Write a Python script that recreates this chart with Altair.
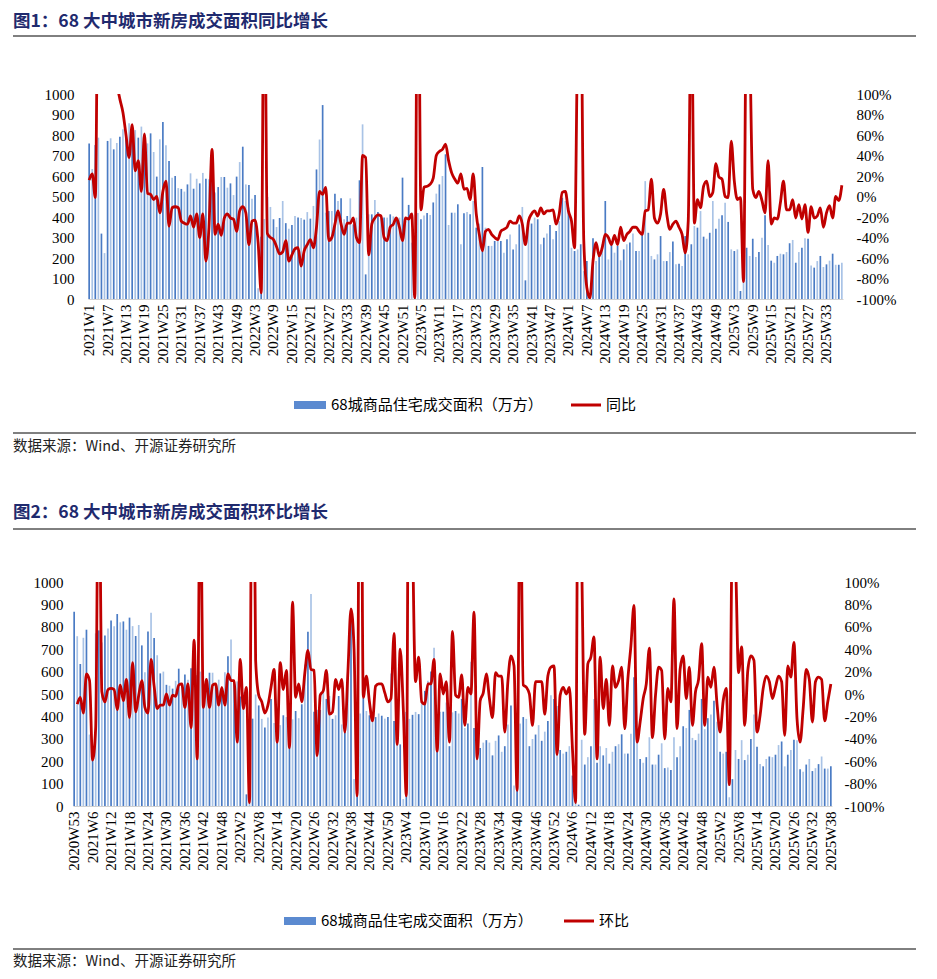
import altair as alt
import pandas as pd

# ---------------- data ----------------
WEEKS = ["2020W53"] + [f"{y}W{w}" for y in range(2021, 2026)
                       for w in range(1, (53 if y < 2025 else 39))]

# 68城商品住宅成交面积（万方）, 2020W53 .. 2025W38
AREA = [867,
    758, 634, 751, 787, 319, 224, 771, 784, 730, 761,
    792, 828, 803, 857, 820, 824, 787, 841, 803, 759,
    808, 717, 597, 779, 863, 750, 673, 592, 600, 541,
    537, 524, 559, 613, 538, 587, 564, 615, 587, 584,
    600, 519, 546, 595, 595, 543, 564, 507, 597, 668,
    743, 559, 556, 489, 507, 52,
    304, 390, 498, 449, 389, 351, 395, 478, 370, 343,
    361, 405, 397, 395, 387, 424, 392, 454, 632, 778,
    946, 421, 429, 429, 514, 478, 491, 389, 405, 491,
    364, 397, 579, 852, 120, 413, 413, 483, 424, 405,
    397, 397, 413, 403, 390, 397, 592, 380, 459, 275,
    31, 420, 389, 407, 420, 410, 471, 514, 559,
    600, 706, 361, 421, 421, 462, 267, 418, 424, 413,
    478, 348, 368, 644, 348, 259, 259, 283, 294, 283,
    226, 291, 315, 242, 267, 364, 449, 91, 380, 368,
    397, 389, 267, 299, 319, 361, 291, 332, 380, 494,
    478, 446, 250, 234, 242, 267, 136, 185, 6, 296,
    185, 218, 267, 478, 193, 267, 226, 259, 189, 242,
    267, 276, 320, 234, 234,
    323, 575, 323, 210, 193, 218, 307, 185, 185, 229,
    280, 169, 172, 161, 307, 218, 267, 356, 348, 429,
    304, 294, 323, 478, 343, 392, 408, 470, 376, 242,
    234, 242, 39, 120, 250, 210, 294, 205, 229, 299,
    408, 264, 187, 177, 210, 221, 218, 229, 272, 288,
    177, 229, 250, 296, 294, 164, 153, 185, 210, 156,
    169, 187, 221, 167, 167, 177]

# 同比 (%), 2021W1 .. 2025W38
YOY = [16, 22, -1, 300, 500, 400, 200, 160, 130, 110,
    95, 82, 60, 38, 70, 25, 35, 5, 61, 3,
    2, -3, 0, -16, 5, 15, -29, -11, -10, -11,
    -24, -26, -27, -19, -30, -17, -40, -17, -63, -30,
    46, -37, -27, -38, -21, -17, -21, -22, -34, -14,
    -10, -16, -47, -24, -23, -45, -94, 250, -36, -40,
    -42, -49, -56, -54, -43, -63, -57, -51, -50, -68,
    -53, -47, -42, -50, -30, 5, 2, 9, -43, -40,
    -27, -14, -27, -37, -26, -26, -21, -40, -45, 40,
    38, -57, -27, -21, -18, -19, -40, -43, -30, -27,
    -21, -30, -43, -21, -22, -17, -99, 300, -13, 9,
    10, 12, 18, 40, 44, 46, 51, 35, 23, 17,
    13, 22, 7, 8, -3, 22, -17, -37, -53, -34,
    -32, -37, -40, -42, -34, -32, -30, -24, -26, -26,
    -19, -27, -47, -24, -17, -14, -19, -11, -17, -14,
    -14, -13, -27, -17, 4, 5, -14, -24, -50, 150,
    200, -43, -89, -99, -63, -45, -58, -50, -37, -40,
    -47, -38, -47, -30, -43, -37, -34, -30, -30, -34,
    -37, -14, -13, 17, -21, -26, -17, 7, -17, -32,
    -27, -24, -30, -37, -55, -24, 200, -26, -3, -11,
    10, 15, 0, 4, 32, 19, 17, 0, -1, 54,
    15, -3, -1, -83, 200, 150, 7, -1, 5, -4,
    -16, 35, -27, -21, -22, -6, 15, -13, -13, -3,
    -21, -8, -22, -8, -35, -10, -21, -19, -11, -30,
    -16, -9, -21, 0, -4, 11]

# 环比 (%), 2020W53 .. 2025W38
MOM = [None,
    -9, -3, -17, 18, 12, -59, -30, 244, 2, -7,
    4, 5, 4, -14, 8, -6, 13, -21, 28, -16,
    -1, 12, -12, -17, 31, 7, -13, -10, -10, 0,
    -10, -1, -2, 8, 9, -12, 9, -30, 48, -58,
    200, -12, 13, -12, 8, 9, -10, 6, -10, 18,
    12, 12, -43, 31, -13, 6, -97,
    350, 30, -1, -7, -17, -10, 6, 22, -43, 28,
    4, 21, -48, 82, -3, 9, -7, 19, 39, 22,
    21, -55, -1, 3, 21, -18, -16, 13, 4, 13,
    -34, 20, 76, 40, -91, 400, -3, 16, -7, -24,
    7, 9, 9, 1, -7, -4, 54, -45, 40, -13,
    -91, 400, 150, 11, 33, -7, -9, 9, 9,
    31, -51, 18, 0, 11, -43, 56, -1, -3, 17,
    -28, 6, 0, 73, -58, -6, 1, 18, -4, -21,
    19, 16, 16, -34, 11, 34, 25, -86, 200, 8,
    6, 0, -28, 11, 11, 11, -18, 16, 24, 25,
    -54, -1, 6, 0, 6, -49, -97, 300, 120, -36,
    27, 33, 51, -58, 33, -13, 13, -28, 25, 6, 12,
    24,
    -31, 13, 43, 79, -43, -25, -4, 9, 41, -39,
    -1, 24, 21, -40, 5, -7, 85, -31, 22, 34,
    -4, 24, -28, 2, 13, 45, -28, 15, 6, 24,
    -9, -34, -6, 5, -81, 150, 120, 19, 42, -28,
    21, 34, 30, -34, -19, 5, 16, 11, -4, 6,
    16, 11, -37, 25, 15, 46, -22, -43, -13, 22,
    13, -25, 11, 15, 13, -24, -7, 9]

TITLE1 = "图1：68 大中城市新房成交面积同比增长"
TITLE2 = "图2：68 大中城市新房成交面积环比增长"
BAR_LABEL = "68城商品住宅成交面积（万方）"
SOURCE = "数据来源：Wind、开源证券研究所"

# ---------------- style ----------------
NUM_FONT = "Liberation Serif"
CJK_FONT = "Noto Sans CJK SC"
DARK = "#4A7BC4"
LIGHT = "#A9C3E6"
LEG_BLUE = "#5B8AD0"
RED = "#C00000"
TITLE_COLOR = "#1F2A6E"


def one(t):
    return pd.DataFrame({"t": [t]})


def text_layer(txt, x, y, size, color="black", weight="normal"):
    return alt.Chart(one(txt)).mark_text(
        align="left", baseline="middle", font=CJK_FONT, fontSize=size,
        color=color, fontWeight=weight
    ).encode(x=alt.value(x), y=alt.value(y), text="t:N")


def hrule(x1, x2, y, color="black", width=1):
    return alt.Chart(one("r")).mark_rule(color=color, strokeWidth=width).encode(
        x=alt.value(x1), x2=alt.value(x2), y=alt.value(y))


def panel(weeks, area, ratio, ratio_name, title, W, H, xrange,
          left_offset, left_pad, right_pad, geo):
    df = pd.DataFrame({
        "week": weeks,
        "area": area,
        "ratio": ratio,
        "shade": ["a" if i % 2 == 0 else "b" for i in range(len(weeks))],
    })
    xenc = alt.X(
        "week:N", sort=None,
        scale=alt.Scale(range=xrange, paddingInner=0.45, paddingOuter=0.1),
        axis=alt.Axis(values=weeks[::6], labelAngle=270, title=None, ticks=False,
                      domainColor="#D0D0D0", labelFont=NUM_FONT, labelFontSize=15,
                      labelColor="black", labelPadding=5, labelOverlap=False),
    )
    bars = alt.Chart(df).mark_bar().encode(
        x=xenc,
        y=alt.Y("area:Q", scale=alt.Scale(domain=[0, 1000], nice=False),
                axis=alt.Axis(values=list(range(0, 1001, 100)), title=None,
                              format="d", grid=False, ticks=False, domain=False,
                              labelFont=NUM_FONT, labelFontSize=15,
                              labelColor="black", labelPadding=left_pad,
                              offset=left_offset)),
        color=alt.Color("shade:N", scale=alt.Scale(domain=["a", "b"], range=[DARK, LIGHT]),
                        legend=None),
    )
    line = alt.Chart(df).mark_line(color=RED, strokeWidth=2.8, clip=True,
                                   interpolate="monotone").encode(
        x=xenc,
        y=alt.Y("ratio:Q", scale=alt.Scale(domain=[-100, 100], nice=False),
                axis=alt.Axis(orient="right", values=list(range(-100, 101, 20)),
                              labelExpr="datum.value + '%'", title=None, grid=False,
                              ticks=False, domain=False, labelFont=NUM_FONT,
                              labelFontSize=15, labelColor="black",
                              labelPadding=right_pad)),
    )
    g = geo
    legend = [
        alt.Chart(one("r")).mark_rect(color=LEG_BLUE).encode(
            x=alt.value(g["rect_x"]), x2=alt.value(g["rect_x"] + 32),
            y=alt.value(g["leg_y"] - 4), y2=alt.value(g["leg_y"] + 4)),
        text_layer(BAR_LABEL, g["rect_x"] + 37, g["leg_y"], 15),
        hrule(g["line_x"], g["line_x"] + 30, g["leg_y"], RED, 3),
        text_layer(ratio_name, g["line_x"] + 35, g["leg_y"], 15),
    ]
    deco = [
        text_layer(title, -56, g["title_y"], 17.5, TITLE_COLOR, "bold"),
        hrule(-56, 847, g["rule1_y"]),
        hrule(-56, 847, g["rule2_y"]),
        text_layer(SOURCE, -56, g["src_y"], 14.5, "#222222"),
    ]
    return alt.layer(bars, line, *legend, *deco).resolve_scale(
        y="independent", color="independent").properties(width=W, height=H)


p1 = panel(WEEKS[1:], AREA[1:], YOY, "同比", TITLE1, 777, 205, [19, 774],
           -7, 2, 10,
           dict(rect_x=225, line_x=502, leg_y=311, title_y=-72, rule1_y=-58,
                rule2_y=339, src_y=353))
p2 = panel(WEEKS, AREA, MOM, "环比", TITLE2, 764, 224, [4, 763],
           0, 6, 11,
           dict(rect_x=215, line_x=495, leg_y=339, title_y=-69, rule1_y=-53,
                rule2_y=367, src_y=380))

chart = alt.vconcat(p1, p2, spacing=50).configure_view(stroke=None).properties(
    padding={"left": 4, "top": 5, "right": 2, "bottom": 2})

chart.save("out.html", embed_options={"renderer": "svg", "actions": False})
